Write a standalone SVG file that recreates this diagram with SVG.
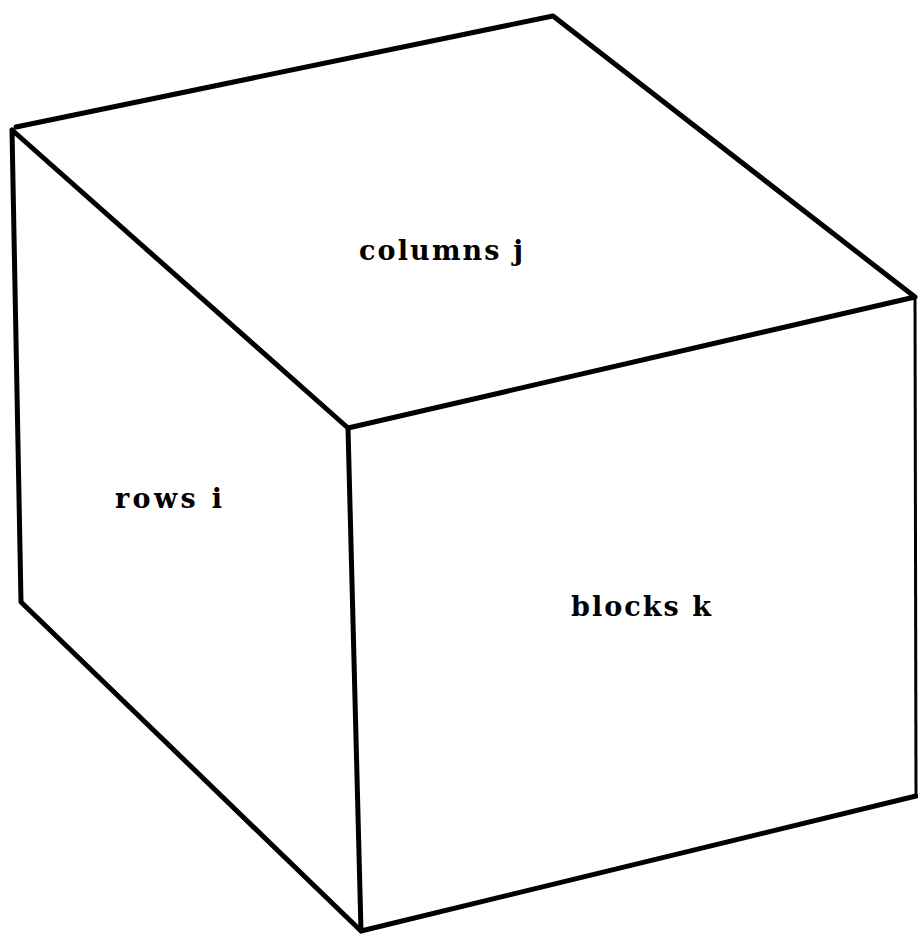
<svg xmlns="http://www.w3.org/2000/svg" width="918" height="935" viewBox="0 0 918 935">
<style>
.e{fill:none;stroke:#000;stroke-width:5;stroke-linecap:round;stroke-linejoin:round}
.t{font-family:"DejaVu Serif","Liberation Serif",serif;font-weight:bold;font-size:27px;fill:#000}
</style>
<rect width="918" height="935" fill="#fff"/>
<g id="cube">
<path class="e" d="M16,127 L553,16 L915,297 L348,428 L12,130 L21,602 L361,931 L916,796"/>
<path class="e" d="M348,428 L361,931"/>
<path d="M915,297 L916,796" fill="none" stroke="#000" stroke-width="3"/>
</g>
<g id="labels">
<text class="t" x="359" y="260" textLength="164" lengthAdjust="spacing">columns j</text>
<text class="t" x="115" y="508" textLength="107" lengthAdjust="spacing">rows i</text>
<text class="t" x="571" y="616" textLength="140" lengthAdjust="spacing">blocks k</text>
</g>
</svg>
